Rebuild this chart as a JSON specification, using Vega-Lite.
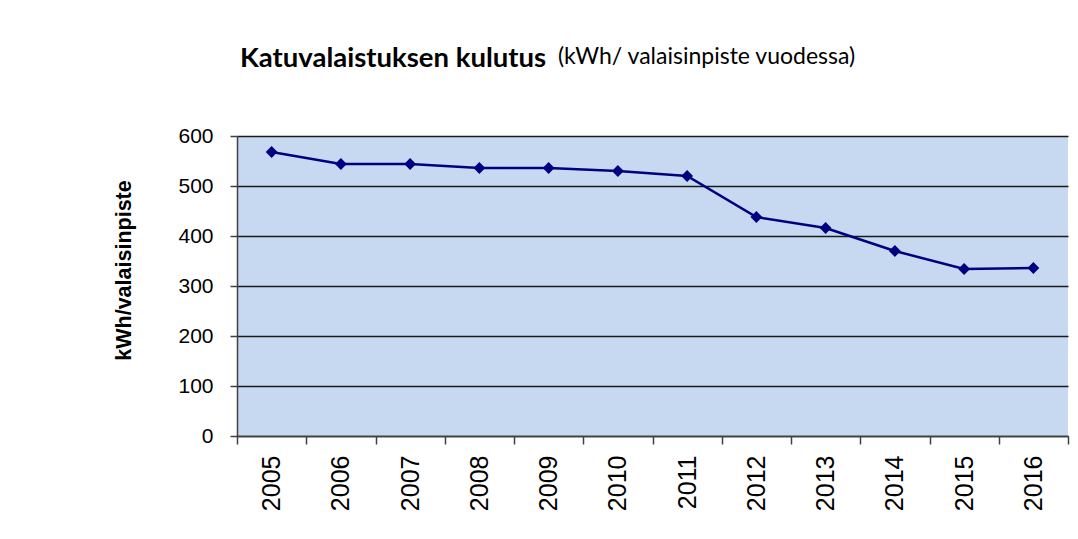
{
  "$schema": "https://vega.github.io/schema/vega-lite/v6.json",
  "autosize": {"type": "none"},
  "padding": {"left": 237, "top": 136, "right": 10, "bottom": 103},
  "width": 831,
  "height": 300,
  "background": "white",
  "title": {
    "text": "Katuvalaistuksen kulutus",
    "subtitle": "\u200b\u00a0\u00a0\u00a0\u00a0\u00a0\u00a0\u00a0\u00a0\u00a0\u00a0\u00a0\u00a0\u00a0\u00a0\u00a0\u00a0\u00a0\u00a0\u00a0\u00a0\u00a0\u00a0\u00a0\u00a0\u00a0\u00a0\u00a0\u00a0\u00a0\u00a0\u00a0\u00a0\u00a0\u00a0\u00a0\u00a0\u00a0\u00a0\u00a0\u00a0\u00a0\u00a0\u00a0\u00a0\u00a0\u00a0\u00a0\u00a0\u00a0\u00a0\u00a0\u00a0\u00a0\u00a0(kWh/ valaisinpiste vuodessa)",
    "anchor": "start",
    "frame": "group",
    "dx": 3,
    "offset": 53,
    "font": "Lato",
    "fontSize": 27.5,
    "fontWeight": "bold",
    "color": "#000000",
    "subtitleFont": "Lato",
    "subtitleFontSize": 23,
    "subtitleColor": "#000000",
    "subtitlePadding": -26
  },
  "data": {
    "values": [
      {"year": "2005", "kwh": 568},
      {"year": "2006", "kwh": 544},
      {"year": "2007", "kwh": 544},
      {"year": "2008", "kwh": 536},
      {"year": "2009", "kwh": 536},
      {"year": "2010", "kwh": 530},
      {"year": "2011", "kwh": 520},
      {"year": "2012", "kwh": 438},
      {"year": "2013", "kwh": 416},
      {"year": "2014", "kwh": 370},
      {"year": "2015", "kwh": 334},
      {"year": "2016", "kwh": 336}
    ]
  },
  "encoding": {
    "x": {
      "field": "year",
      "type": "ordinal",
      "scale": {"type": "band", "paddingInner": 0, "paddingOuter": 0},
      "axis": {
        "title": null,
        "labelAngle": -90,
        "labelFont": "Liberation Sans",
        "labelFontSize": 25,
        "labelColor": "#000000",
        "labelPadding": 11,
        "tickBand": "extent",
        "tickSize": 8,
        "tickColor": "#404040",
        "tickWidth": 1.5,
        "domainColor": "#404040",
        "domainWidth": 1.5,
        "grid": false
      }
    },
    "y": {
      "field": "kwh",
      "type": "quantitative",
      "scale": {"domain": [0, 600], "nice": false},
      "axis": {
        "title": "kWh/valaisinpiste",
        "titleFont": "Liberation Sans",
        "titleFontSize": 21.5,
        "titleFontWeight": "bold",
        "titleColor": "#000000",
        "titlePadding": 42,
        "titleY": 134,
        "values": [0, 100, 200, 300, 400, 500, 600],
        "labelFont": "Liberation Sans",
        "labelFontSize": 21,
        "labelColor": "#000000",
        "labelPadding": 17,
        "tickSize": 7,
        "tickColor": "#404040",
        "tickWidth": 1.5,
        "domainColor": "#404040",
        "domainWidth": 1.5,
        "grid": true,
        "gridColor": "#1a1a1a",
        "gridWidth": 1.3
      }
    }
  },
  "layer": [
    {"mark": {"type": "line", "color": "#000080", "strokeWidth": 2.5}},
    {"mark": {"type": "point", "shape": "diamond", "filled": true, "size": 140, "color": "#000080", "opacity": 1}}
  ],
  "config": {
    "view": {"fill": "#C6D9F1", "stroke": null}
  }
}
